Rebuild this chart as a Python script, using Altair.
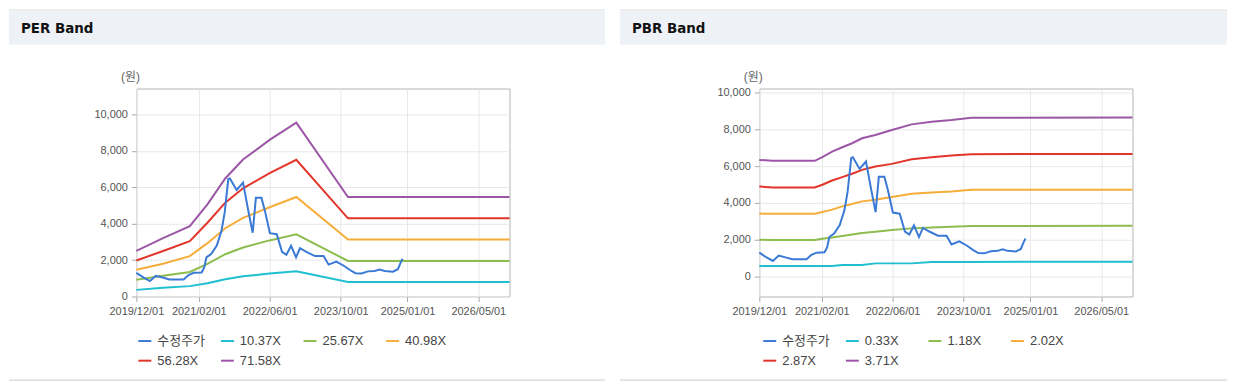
import altair as alt
import pandas as pd

# ---- data ----
PRICE_DATES = [
    "2019-12-01", "2020-01-20", "2020-03-03", "2020-04-12", "2020-06-04", "2020-07-15",
    "2020-10-20", "2020-11-22", "2020-12-28", "2021-02-20", "2021-03-10", "2021-03-25",
    "2021-04-28", "2021-06-04", "2021-07-06", "2021-07-28", "2021-08-22", "2021-09-02",
    "2021-10-18", "2021-12-01", "2022-01-05", "2022-02-05", "2022-02-27", "2022-04-06",
    "2022-04-30", "2022-06-03", "2022-07-20", "2022-08-25", "2022-09-24", "2022-10-26",
    "2022-11-29", "2022-12-26", "2023-02-08", "2023-04-08", "2023-06-06", "2023-07-10",
    "2023-09-01", "2023-10-22", "2023-12-06", "2024-01-10", "2024-02-20", "2024-04-05",
    "2024-05-20", "2024-06-24", "2024-07-28", "2024-09-23", "2024-10-27", "2024-11-14",
    "2024-11-28",
]
PRICE_VALUES = [
    1300, 1040, 850, 1140, 1030, 940,
    940, 1180, 1300, 1320, 1600, 2150,
    2350, 2800, 3600, 4600, 6450, 6480,
    5850, 6250, 4750, 3500, 5420, 5420,
    4700, 3480, 3420, 2450, 2290, 2780,
    2150, 2650, 2450, 2220, 2220, 1750,
    1920, 1690, 1440, 1280, 1265, 1380,
    1400, 1480, 1400, 1360, 1500, 1850,
    2070,
]

PER_NAMES = ["10.37X", "25.67X", "40.98X", "56.28X", "71.58X"]
PER_DATES = ["2019-12-01", "2020-06-01", "2020-12-01", "2021-04-01", "2021-08-01",
             "2021-12-01", "2022-06-01", "2022-12-01", "2023-11-20", "2026-12-01"]
PER_1037 = [364, 475, 570, 732, 945, 1110, 1260, 1390, 795, 795]
PER_2567 = [925, 1135, 1350, 1790, 2320, 2690, 3080, 3415, 1952, 1952]
PER_4098 = [1470, 1800, 2215, 2930, 3750, 4316, 4900, 5465, 3130, 3130]
PER_5628 = [1975, 2500, 3040, 4050, 5150, 5940, 6775, 7505, 4292, 4292]
PER_7158 = [2510, 3200, 3860, 5060, 6480, 7520, 8600, 9550, 5460, 5460]

PBR_NAMES = ["0.33X", "1.18X", "2.02X", "2.87X", "3.71X"]
PBR_DATES = ["2019-12-01", "2020-03-01", "2020-12-15", "2021-02-05", "2021-04-13",
             "2021-06-21", "2021-08-28", "2021-11-04", "2022-02-03", "2022-05-27",
             "2022-10-10", "2023-02-24", "2023-07-10", "2023-11-23", "2026-12-01"]
PBR_033 = [573, 573, 573, 573, 580, 629, 629, 629, 719, 719, 719, 791, 791, 800, 805]
PBR_118 = [2000, 1995, 1995, 2060, 2120, 2210, 2290, 2370, 2440, 2530, 2620, 2670, 2710, 2750, 2760]
PBR_202 = [3422, 3410, 3410, 3513, 3638, 3816, 3946, 4086, 4178, 4324, 4503, 4573, 4627, 4716, 4719]
PBR_287 = [4897, 4840, 4840, 4989, 5222, 5405, 5586, 5800, 5978, 6124, 6378, 6486, 6573, 6650, 6665]
PBR_371 = [6340, 6290, 6290, 6486, 6790, 7027, 7243, 7513, 7692, 7962, 8270, 8411, 8503, 8630, 8640]

PRICE_NAME = "수정주가"
X_TICKS = ["2019-12-01", "2021-02-01", "2022-06-01", "2023-10-01", "2025-01-01", "2026-05-01"]
X_DOMAIN = ["2019-12-01", "2026-12-01"]
Y_TICKS = [0, 2000, 4000, 6000, 8000, 10000]
COLORS = ["#3a7ad6", "#20bfd0", "#8dbd4e", "#f7ad3a", "#e2352b", "#9b57a5"]

FONT = "Liberation Sans, Arial, Noto Sans CJK KR, sans-serif"
HEAD_FONT = "DejaVu Sans, sans-serif"


def dt(s):
    y, m, d = (int(p) for p in s.split("-"))
    return alt.DateTime(year=y, month=m, date=d, utc=True)


def panel(title, names, band_dates, bands, ydomain, hx0, hx1, lx):
    order = [PRICE_NAME] + names
    price_df = pd.DataFrame({"date": PRICE_DATES, "value": PRICE_VALUES, "series": PRICE_NAME})
    rows = []
    for name, vals in zip(names, bands):
        for d, v in zip(band_dates, vals):
            rows.append({"date": d, "value": v, "series": name})
    band_df = pd.DataFrame(rows)

    x = alt.X("date:T",
              scale=alt.Scale(type="utc", domain=[dt(X_DOMAIN[0]), dt(X_DOMAIN[1])]),
              axis=alt.Axis(values=[dt(t) for t in X_TICKS],
                            labelExpr="utcFormat(datum.value, '%Y/%m/%d')",
                            title=None, labelFlush=False, labelOverlap=False))
    y = alt.Y("value:Q", scale=alt.Scale(domain=ydomain, nice=False, zero=False),
              axis=alt.Axis(values=Y_TICKS, labelExpr="format(datum.value, ',d')", title=None))
    color = alt.Color("series:N", scale=alt.Scale(domain=order, range=COLORS),
                      legend=alt.Legend(title=None, orient="none", legendX=lx, legendY=246,
                                        direction="horizontal", columns=4,
                                        symbolType="stroke", symbolStrokeWidth=2,
                                        symbolSize=169, labelFontSize=13,
                                        labelColor="#444", labelFont=FONT,
                                        gridAlign="all", columnPadding=12, rowPadding=5,
                                        labelOffset=5))

    bands_layer = alt.Chart(band_df).mark_line(strokeWidth=2).encode(x=x, y=y, color=color)
    price_layer = alt.Chart(price_df).mark_line(strokeWidth=2).encode(x=x, y=y, color=color)

    one = pd.DataFrame({"k": [0]})
    header = alt.Chart(one).mark_rect(fill="#eef2f7").encode(
        x=alt.value(hx0), x2=alt.value(hx1), y=alt.value(-78), y2=alt.value(-44))
    top_rule = alt.Chart(one).mark_rule(color="#dddddd", strokeWidth=1).encode(
        x=alt.value(hx0), x2=alt.value(hx1), y=alt.value(-79))
    bottom_rule = alt.Chart(one).mark_rule(color="#cccccc", strokeWidth=1).encode(
        x=alt.value(hx0), x2=alt.value(hx1), y=alt.value(293))
    head_text = alt.Chart(one).mark_text(
        text=title, font=HEAD_FONT, fontSize=13.5, fontWeight="bold", align="left",
        baseline="middle", color="#111111").encode(x=alt.value(hx0 + 12), y=alt.value(-60))
    unit_text = alt.Chart(one).mark_text(
        text="(원)", font=FONT, fontSize=12, align="center", baseline="middle",
        color="#666666").encode(x=alt.value(-6), y=alt.value(-12))

    return alt.layer(header, top_rule, bottom_rule, head_text, unit_text,
                     bands_layer, price_layer).properties(width=375, height=209)


left = panel("PER Band", PER_NAMES, PER_DATES,
             [PER_1037, PER_2567, PER_4098, PER_5628, PER_7158], [0, 11420], -128, 471, 1)
right = panel("PBR Band", PBR_NAMES, PBR_DATES,
              [PBR_033, PBR_118, PBR_202, PBR_287, PBR_371], [-1080, 10216], -140, 470, 3)

chart = alt.hconcat(left, right, spacing=13).resolve_scale(
    color="independent", x="independent", y="independent"
).configure(padding=0, background="white").configure_view(
    stroke="#b4b4b4", strokeWidth=1
).configure_axis(
    gridColor="#e8e8e8", domain=False, tickColor="#aaaaaa", tickSize=5,
    labelColor="#555555", labelFont=FONT, labelFontSize=11, labelPadding=4
)

chart.save("out.html", embed_options={"renderer": "svg", "actions": False})
